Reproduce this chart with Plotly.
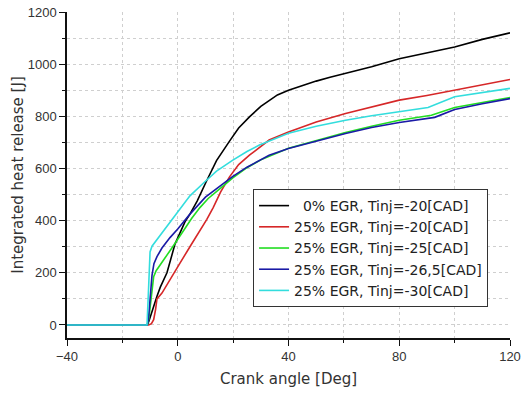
import plotly.graph_objects as go

# Crank angle [Deg] and integrated heat release [J] for each case
x_black = [-40, -11, -10.4, -9.5, -8.7, -7.5, -6.3, -3.9, -1, 2.6, 4.4, 7, 10.4, 14, 18.7, 22, 25.9, 28, 30, 33, 36, 40, 45, 50, 55, 60.6, 70, 80, 90, 100, 110, 120]
y_black = [0, 0, 15, 45, 75, 110, 145, 200, 310, 395, 425, 475, 552, 630, 705, 755, 798, 820, 838, 860, 882, 900, 919, 935, 950, 964, 990, 1021, 1043, 1066, 1095, 1120]

x_red = [-40, -10.5, -9.5, -8.7, -8, -7.5, -5.7, -2, 0.8, 4.4, 8, 10.5, 12.8, 15.5, 18.7, 22, 25.9, 29.5, 33, 40, 50, 60.6, 70, 80, 90, 100, 110, 120]
y_red = [0, 0, 5, 20, 60, 100, 122, 185, 237, 300, 360, 405, 450, 510, 568, 615, 651, 680, 709, 740, 778, 811, 835, 862, 880, 900, 922, 941]

x_green = [-40, -11, -10.5, -9.5, -8.7, -7.8, -5, -2, 2, 5, 8, 11, 14.4, 20, 25, 30, 40, 50, 60.6, 70, 80, 91.6, 100, 110, 120]
y_green = [0, 0, 20, 120, 185, 208, 250, 297, 360, 408, 450, 485, 515, 565, 603, 633, 678, 708, 738, 762, 785, 804, 834, 853, 872]

x_blue = [-40, -11, -10.6, -10, -9.3, -8.6, -7.5, -5.7, -2.8, 0, 2, 4.4, 10, 16.3, 19.9, 25, 29.5, 33, 40, 50, 60.6, 70, 80, 92.8, 100, 110, 120]
y_blue = [0, 0, 20, 100, 190, 235, 262, 295, 335, 368, 395, 425, 490, 543, 570, 605, 632, 651, 677, 706, 734, 757, 776, 796, 826, 848, 868]

x_cyan = [-40, -11.1, -10.5, -10, -9.3, -7, -3.9, 0.8, 4.4, 9.8, 14, 19.9, 25, 29.5, 33, 40, 50, 60.6, 70, 80, 90.4, 100, 110, 120]
y_cyan = [0, 0, 150, 280, 302, 335, 377, 447, 495, 549, 590, 632, 665, 690, 705, 735, 762, 785, 802, 817, 834, 875, 892, 907]

names = ["\u20070% EGR, Tinj=-20[CAD]", "25% EGR, Tinj=-20[CAD]", "25% EGR, Tinj=-25[CAD]",
         "25% EGR, Tinj=-26,5[CAD]", "25% EGR, Tinj=-30[CAD]"]
colors = ["#000000", "#d62728", "#22dd22", "#1a1aa6", "#33dddd"]

series = [(x_black, y_black), (x_red, y_red), (x_green, y_green), (x_blue, y_blue), (x_cyan, y_cyan)]

fig = go.Figure()
for (xs, ys), n, c in zip(series, names, colors):
    fig.add_trace(go.Scatter(x=xs, y=ys, mode="lines", name=n,
                             line=dict(color=c, width=1.6)))

font = "Liberation Sans, Arial, sans-serif"
wide = "DejaVu Sans, sans-serif"
fig.update_layout(
    width=522, height=394,
    margin=dict(l=67, r=12, t=12, b=56),
    paper_bgcolor="white", plot_bgcolor="white",
    font=dict(family=font, color="#222"),
    showlegend=True,
    legend=dict(x=0.42, y=0.457, xanchor="left", yanchor="top",
                bgcolor="white", bordercolor="#333", borderwidth=1,
                font=dict(size=14, family=wide, color="#222"),
                tracegroupgap=0),
    xaxis=dict(range=[-40, 120], tickvals=[-40, 0, 40, 80, 120], automargin=False,
               showline=True, linecolor="#111", linewidth=1.5,
               ticks="outside", ticklen=6, tickcolor="#111", tickwidth=1.2,
               tickfont=dict(size=13, color="#333"),
               showgrid=True, gridcolor="#cfcfcf", griddash="dot", gridwidth=1,
               zeroline=False,
               minor=dict(dtick=20, ticks="outside", ticklen=3, tickcolor="#111",
                          showgrid=True, gridcolor="#cfcfcf", griddash="dot"),
               title=dict(text="Crank angle [Deg]", font=dict(size=15, family=wide, color="#333"), standoff=10)),
    yaxis=dict(range=[-50, 1200], tickvals=[0, 200, 400, 600, 800, 1000, 1200], automargin=False,
               showline=True, linecolor="#111", linewidth=1.5,
               ticks="outside", ticklen=6, tickcolor="#111", tickwidth=1.2,
               tickfont=dict(size=13, color="#333"),
               showgrid=True, gridcolor="#cfcfcf", griddash="dot", gridwidth=1,
               zeroline=False,
               minor=dict(dtick=100, ticks="outside", ticklen=3, tickcolor="#111",
                          showgrid=True, gridcolor="#cfcfcf", griddash="dot"),
               title=dict(text="Integrated heat release [J]", font=dict(size=15, family=wide, color="#333"), standoff=0)),
)

fig.write_html("out.html")
